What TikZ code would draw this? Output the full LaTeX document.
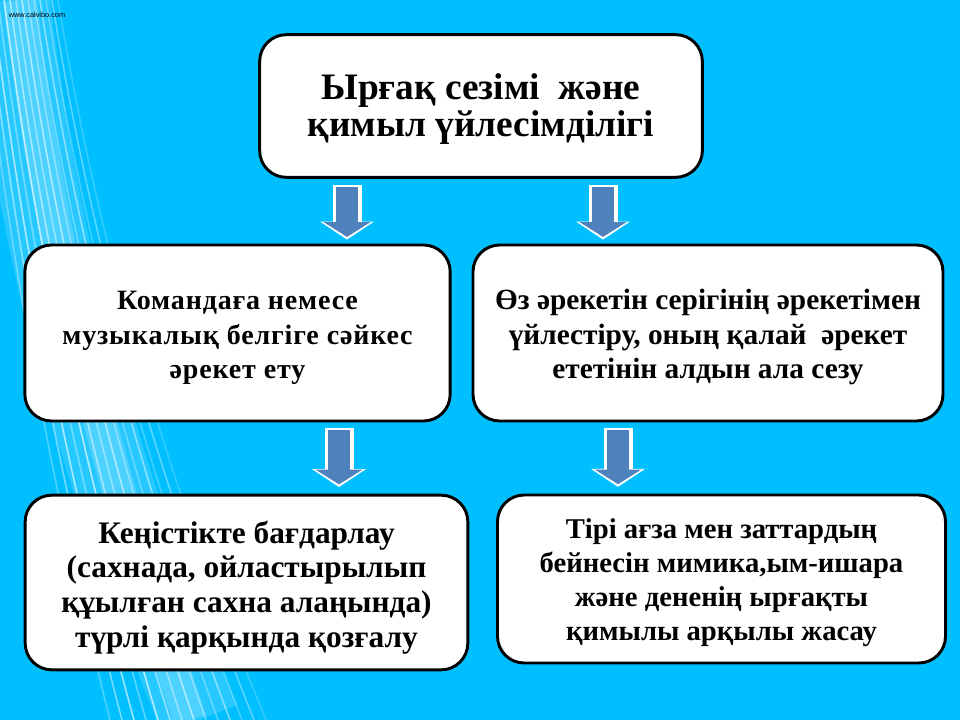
\documentclass[tikz,border=0pt]{standalone}
\usepackage{fontspec}
\setmainfont{Liberation Serif}
\setsansfont{Liberation Sans}
\usepackage{tikz}
\usetikzlibrary{arrows.meta, positioning}

\definecolor{bgcyan}{RGB}{0,191,255}
\definecolor{arrowblue}{RGB}{79,129,189}
\newcommand\boxstrut[1]{\rule{0pt}{#1}}

\begin{document}
\begin{tikzpicture}[x=0.75pt, y=-0.75pt,
    box/.style={draw=black, line width=2.2pt, fill=white, rounded corners=20pt,
        align=center, inner sep=0pt, font=\bfseries\fontsize{22}{26}\selectfont},
    rim/.style={draw=white, line width=21.75pt,
        -{Triangle[length=13.5pt, width=40.5pt, line width=0pt]}},
    core/.style={draw=arrowblue, line width=16.5pt,
        -{Triangle[length=11pt, width=35pt, line width=0pt]}}]

        % background
        \useasboundingbox (0,0) rectangle (960,720);
        \fill[bgcyan] (0,0) rectangle (960,720);
        \begin{scope}
            \clip (0,0) rectangle (960,720);
            \draw[white, opacity=.15, line width=60pt] (10,0) .. controls (40,260) and (100,480) .. (200,720);
            \draw[white, opacity=.18, line width=25pt] (20,0) .. controls (50,260) and (110,480) .. (190,720);
            \foreach \i/\o in {0/.3, 1/.45, 2/.6, 3/.35, 4/.65, 5/.5, 6/.4, 7/.55, 8/.35, 9/.3, 10/.45, 11/.25, 12/.35, 13/.2}
                \draw[white, opacity=\o, line width=1.2pt] (-20+6*\i,0) .. controls (10+7*\i,260) and (50+9*\i,480) .. (110+12*\i,720);
        \end{scope}
        \node[font=\sffamily\fontsize{5.5}{6}\selectfont, text=black] (site) at (37,15) {www.calvibo.com};

        % nodes
        \node[box, font=\bfseries\fontsize{28}{28}\selectfont, minimum width=332pt, minimum height=107pt] (title) at (481,106) {\boxstrut{24pt}Ырғақ сезімі~ және\\қимыл үйлесімділігі};
        \node[box, font=\bfseries\fontsize{21}{26}\selectfont\addfontfeature{LetterSpace=3}, minimum width=319pt, minimum height=132pt] (cmd) at (237.5,333) {\boxstrut{21.5pt}Командаға немесе\\музыкалық белгіге сәйкес\\әрекет ету};
        \node[box, font=\bfseries\fontsize{22}{26}\selectfont, minimum width=352.5pt, minimum height=132pt] (sync) at (708,333) {\boxstrut{21.5pt}Өз әрекетін серігінің әрекетімен\\үйлестіру, оның қалай~ әрекет\\ететінін алдын ала сезу};
        \node[box, font=\bfseries\fontsize{23.5}{26}\selectfont, minimum width=332pt, minimum height=131pt] (space) at (246.5,582.5) {\boxstrut{24pt}Кеңістікте бағдарлау\\(сахнада, ойластырылып\\құылған сахна алаңында)\\ түрлі қарқында қозғалу};
        \node[box, font=\bfseries\fontsize{21.5}{25.5}\selectfont, minimum width=336pt, minimum height=126pt] (mimic) at (721.5,579) {\boxstrut{21pt}Тірі ағза мен заттардың\\бейнесін мимика,ым-ишара\\және дененің ырғақты\\қимылы арқылы жасау};

        % arrows
        \foreach \a/\b/\x/\e in {title/cmd/347/3pt, title/sync/603/3pt, cmd/space/339/5pt, sync/mimic/618/5pt}{
            \coordinate (ax) at (\x,0);
            \draw[rim, shorten <=4.5pt, shorten >=\e] (\a.south -| ax) -- (\b.north -| ax);
            \draw[core, shorten <=6pt, shorten >=\e+2pt] (\a.south -| ax) -- (\b.north -| ax);
        }

    \end{tikzpicture}
\end{document}
